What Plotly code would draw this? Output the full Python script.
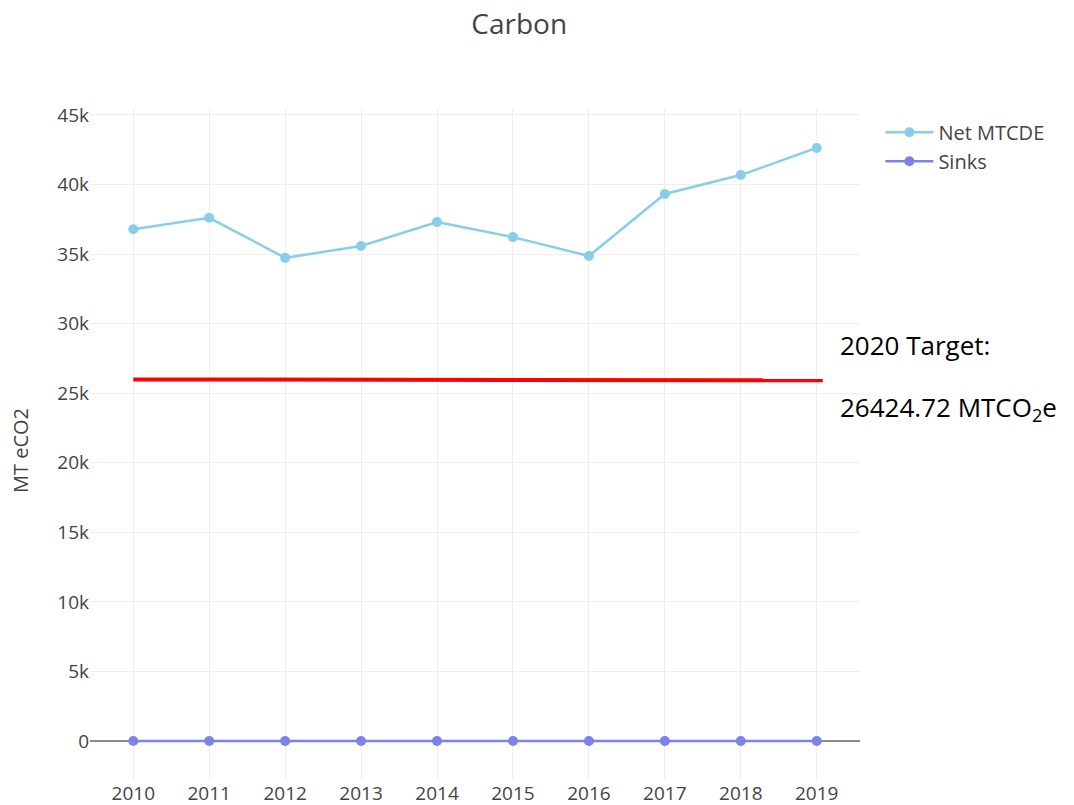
import plotly.graph_objects as go

years = [2010, 2011, 2012, 2013, 2014, 2015, 2016, 2017, 2018, 2019]
net_mtcde = [36780, 37610, 34730, 35580, 37300, 36220, 34860, 39320, 40680, 42630]
sinks = [0, 0, 0, 0, 0, 0, 0, 0, 0, 0]
target_years = [2010, 2019.08]
target_values = [25990, 25930]
target_label_1 = "2020 Target:"
target_label_2 = "26424.72 MTCO<sub>2</sub>e"
y_ticks = [0, 5000, 10000, 15000, 20000, 25000, 30000, 35000, 40000, 45000]
y_tick_text = ["0", "5k", "10k", "15k", "20k", "25k", "30k", "35k", "40k", "45k"]

fig = go.Figure()
fig.add_trace(go.Scatter(x=years, y=net_mtcde, name="Net MTCDE", mode="lines+markers",
                         line=dict(color="#87CEEB", width=2.5), marker=dict(size=10, color="#87CEEB")))
fig.add_trace(go.Scatter(x=years, y=sinks, name="Sinks", mode="lines+markers",
                         line=dict(color="#7B83EB", width=2.5), marker=dict(size=10, color="#7B83EB")))
fig.add_trace(go.Scatter(x=target_years, y=target_values, mode="lines", showlegend=False,
                         line=dict(color="#FF0000", width=4), hoverinfo="skip"))

fig.add_annotation(text=target_label_1, xref="paper", yref="y", x=1.0, y=28490, xanchor="left",
                   yanchor="middle", showarrow=False, xshift=-22,
                   font=dict(family="Open Sans", size=26, color="#000"))
fig.add_annotation(text=target_label_2, xref="paper", yref="y", x=1.0, y=23960, xanchor="left",
                   yanchor="middle", showarrow=False, xshift=-22,
                   font=dict(family="Open Sans", size=26, color="#000"))
fig.add_annotation(text="MT eCO2", xref="paper", yref="paper", x=0, y=0.4896, xanchor="center",
                   yanchor="middle", showarrow=False, xshift=-69, textangle=-90,
                   font=dict(family="Open Sans", size=20, color="#444"))

fig.update_layout(
    width=1074, height=805,
    paper_bgcolor="white", plot_bgcolor="white",
    title=dict(text="Carbon", x=0.476, xanchor="center", xref="container", y=0.98, yanchor="middle",
               font=dict(family="Open Sans", size=28, color="#444")),
    font=dict(family="Open Sans", size=19, color="#444"),
    margin=dict(l=82, r=222, t=100, b=33),
    legend=dict(x=1.0265, y=0.993, xanchor="left", yanchor="top", font=dict(size=20),
                itemwidth=48),
    xaxis=dict(range=[2009.43, 2019.57], tickvals=years, ticktext=[str(y) for y in years],
               showgrid=True, gridcolor="#eeeeee", zeroline=False, tickfont=dict(size=19),
               automargin=False),
    yaxis=dict(range=[-2800, 45500], tickvals=y_ticks, ticktext=y_tick_text,
               showgrid=True, gridcolor="#eeeeee", zeroline=True, zerolinecolor="#8c8c8c", zerolinewidth=2,
               tickfont=dict(size=19), automargin=False),
)

fig.write_html("out.html")
